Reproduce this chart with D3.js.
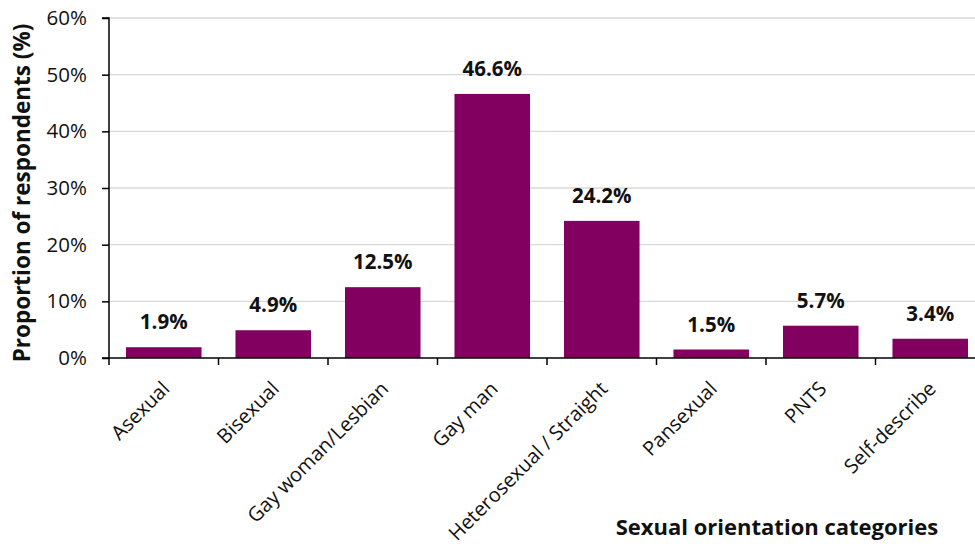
<!DOCTYPE html>
<html><head><meta charset="utf-8">
<script src="https://cdn.jsdelivr.net/npm/d3@7"></script>
<style>body{margin:0;background:#fff}svg{display:block}</style>
</head><body>
<svg id="c" width="975" height="549"></svg>
<script>
const categories = ["Asexual","Bisexual","Gay woman/Lesbian","Gay man","Heterosexual / Straight","Pansexual","PNTS","Self-describe"];
const values = [1.9, 4.9, 12.5, 46.6, 24.2, 1.5, 5.7, 3.4];
const yTicks = [0,10,20,30,40,50,60];
const yTitle = "Proportion of respondents (%)";
const xTitle = "Sexual orientation categories";

(function(){
const font = "'Open Sans', Lato, sans-serif";
const svg = d3.select("#c");
const mLeft = 109, mTop = 18, mBottom = 358, mRight = 985;
const x = d3.scaleBand().domain(categories).range([mLeft, mRight]).paddingInner(0.31).paddingOuter(0.155);
const y = d3.scaleLinear().domain([0,60]).range([mBottom, mTop]);

// gridlines
svg.append("g").selectAll("line").data(yTicks.filter(d=>d>0)).join("line")
  .attr("x1", mLeft).attr("x2", 975).attr("y1", d=>y(d)).attr("y2", d=>y(d))
  .attr("stroke", "#d9d9d9").attr("stroke-width", 1.3);

// bars
svg.append("g").selectAll("rect").data(values).join("rect")
  .attr("x", (d,i)=>x(categories[i])).attr("width", x.bandwidth())
  .attr("y", d=>y(d)).attr("height", d=>mBottom-y(d))
  .attr("fill", "#820060");

// data labels
svg.append("g").selectAll("text").data(values).join("text")
  .attr("x", (d,i)=>x(categories[i]) + x.bandwidth()/2)
  .attr("y", d=>y(d) - 18)
  .attr("text-anchor","middle").attr("font-family", font).attr("font-weight","bold")
  .attr("font-size", 20.5).attr("fill","#111")
  .text(d=>d.toFixed(1)+"%");

// y axis
const yAxis = d3.axisLeft(y).tickValues(yTicks).tickFormat(d=>d+"%").tickSize(7).tickPadding(15);
const gy = svg.append("g").attr("transform",`translate(${mLeft},0)`).call(yAxis);
gy.select(".domain").attr("stroke","#000").attr("stroke-width",1.5).attr("d",`M-7,${mTop}H0V${mBottom}`);
gy.selectAll(".tick line").attr("stroke","#000").attr("stroke-width",1.5);
gy.selectAll(".tick text").attr("font-family",font).attr("font-size",20.5).attr("fill","#111");

// x axis
const bx = d3.scaleLinear().domain([0,8]).range([mLeft,mRight]);
const gx = svg.append("g");
gx.append("line").attr("x1", mLeft-7).attr("x2", 975).attr("y1", mBottom).attr("y2", mBottom).attr("stroke","#000").attr("stroke-width",1.5);
gx.selectAll("line.t").data(d3.range(0,9)).join("line").attr("class","t")
  .attr("x1", d=>bx(d)).attr("x2", d=>bx(d)).attr("y1", mBottom).attr("y2", mBottom+7)
  .attr("stroke","#000").attr("stroke-width",1.5);
gx.selectAll("text").data(categories).join("text")
  .attr("transform", d=>`translate(${x(d)+x.bandwidth()/2+7},${mBottom+32}) rotate(-45)`)
  .attr("text-anchor","end").attr("font-family",font).attr("font-size",20).attr("fill","#111")
  .text(d=>d);

// titles
svg.append("text").attr("transform",`translate(30,${(mTop+mBottom)/2+5}) rotate(-90)`)
  .attr("text-anchor","middle").attr("font-family",font).attr("font-weight","bold").attr("font-size",22.5).attr("fill","#111")
  .text(yTitle);
svg.append("text").attr("x", 777).attr("y", 535)
  .attr("text-anchor","middle").attr("font-family",font).attr("font-weight","bold").attr("font-size",22).attr("fill","#111")
  .text(xTitle);
})();
</script>
</body></html>
